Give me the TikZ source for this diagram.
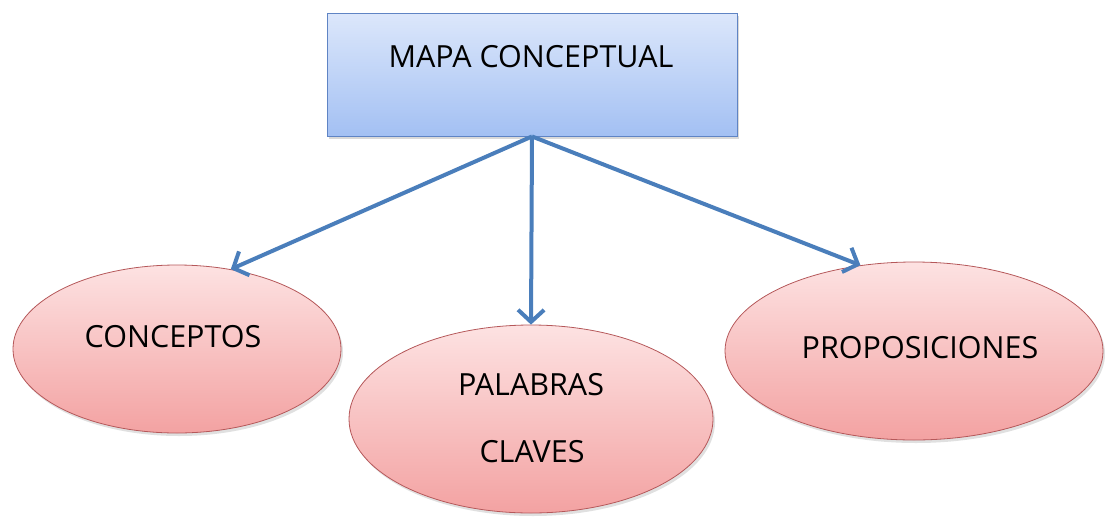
\documentclass[tikz,border=0pt]{standalone}
\usepackage{fontspec}
\setmainfont{Open Sans}
\usetikzlibrary{shapes.geometric,arrows.meta,shadows}
\definecolor{boxtop}{HTML}{DCE7FB}
\definecolor{boxbot}{HTML}{A3C0F3}
\definecolor{boxline}{HTML}{5F84C4}
\definecolor{elltop}{HTML}{FDE2E2}
\definecolor{ellbot}{HTML}{F3A2A2}
\definecolor{ellline}{HTML}{B5585A}
\definecolor{arrowblue}{HTML}{4A7EBB}
\tikzset{
  topbox/.style={rectangle, draw=boxline, line width=0.9pt, top color=boxtop, bottom color=boxbot,
    minimum width=410pt, minimum height=123pt, inner sep=0pt,
    drop shadow={shadow xshift=2pt, shadow yshift=-3pt, opacity=0.25, fill=black!60}},
  ovalbox/.style={ellipse, draw=ellline, line width=0.8pt, top color=elltop, bottom color=ellbot,
    inner sep=0pt,
    drop shadow={shadow xshift=2pt, shadow yshift=-3pt, opacity=0.2, fill=black!60}},
  lbl/.style={font=\fontsize{30.5}{36}\selectfont, text=black, inner sep=0pt},
  link/.style={draw=arrowblue, line width=4pt, -{Straight Barb[length=12pt,width=26pt]}}
}
\begin{document}
\begin{tikzpicture}[x=1pt,y=-1pt]
\useasboundingbox (0,0) rectangle (1105,517);
\node[topbox] (mapa) at (532,74.5) {};
\node[ovalbox, minimum width=328pt, minimum height=168pt] (conc) at (177,349) {};
\node[ovalbox, minimum width=364pt, minimum height=188pt] (pal) at (531,419) {};
\node[ovalbox, minimum width=378pt, minimum height=178pt] (prop) at (914,351) {};
\node[lbl] (tmapa) at (531,57) {MAPA CONCEPTUAL};
\node[lbl] (tconc) at (173,337) {CONCEPTOS};
\node[lbl] (tpal1) at (531,385) {PALABRAS};
\node[lbl] (tpal2) at (532,452) {CLAVES};
\node[lbl] (tprop) at (920,348) {PROPOSICIONES};
\coordinate (src) at (mapa.south);
\draw[link] (src) -- (conc.56);
\draw[link] (src) -- (pal.north);
\draw[link] (src) -- (prop.122);
\end{tikzpicture}
\end{document}
